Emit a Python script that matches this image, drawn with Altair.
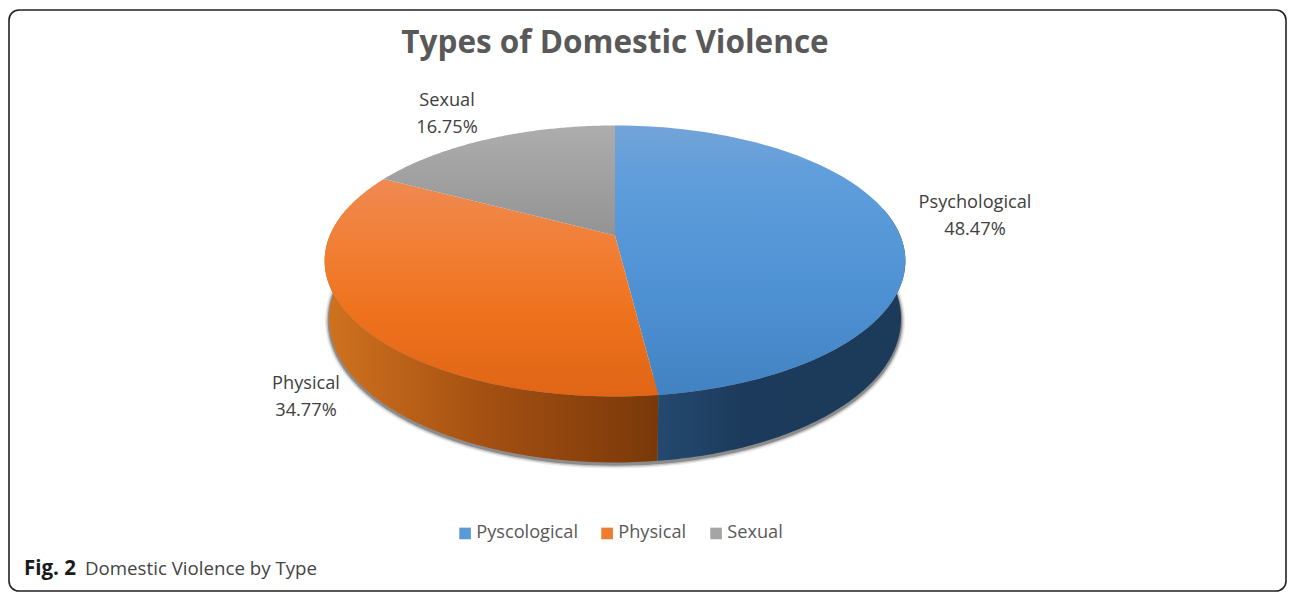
import math
import altair as alt

# --- data -------------------------------------------------------------
slice_names = ["Psychological", "Physical", "Sexual"]
legend_names = ["Pyscological", "Physical", "Sexual"]
shares = [48.47, 34.77, 16.75]
legend_colors = ["#5b9bd5", "#ed7d31", "#a5a5a5"]
title_text = "Types of Domestic Violence"
caption_bold = "Fig. 2"
caption_text = "Domestic Violence by Type"
label_centres = [(975, 208), (306, 389), (447, 106)]

# --- page geometry ----------------------------------------------------
OX, OY = 9, 10
W, H = 1277, 581
CX, AY = 615, 235.5     # apex of the wedges
A, B, C = 130.7, 0.188, 285.2  # perspective of the tilted disc
TILT = 1.6


def top_pt(t):
    r = math.radians(t)
    u, v = math.sin(r), -math.cos(r)
    d = 1 - B * v
    return (CX + C * u / d - OX, AY + A * v / d - OY)


def bottom_pt(t, extra=0):
    r = math.radians(t)
    v = -math.cos(r)
    x, y = top_pt(t)
    return (CX - OX + (x - (CX - OX)) * 0.985, y + 56 + 10 * max(v, 0) + extra)


def sweep(a, b, fn, n=120):
    return [list(fn(a + (b - a) * i / n)) for i in range(n + 1)]


def feature(ring):
    return {"type": "Feature", "properties": {},
            "geometry": {"type": "Polygon", "coordinates": [ring + [ring[0]]]}}


total = sum(shares)
edges = [0.0]
run = 0.0
for s in shares[:-1]:
    run += s
    edges.append(run / total * 360 - TILT)
edges.append(360.0)


def grad(stops, horizontal=False):
    return alt.LinearGradient(
        gradient="linear",
        x1=0, y1=0, x2=1 if horizontal else 0, y2=0 if horizontal else 1,
        stops=[alt.GradientStop(offset=o, color=c) for o, c in stops],
    )


def shape(ring, **mark):
    return (
        alt.Chart(alt.InlineData(values=[feature(ring)]))
        .mark_geoshape(**mark)
        .project(type="identity", scale=1, translate=[0, 0])
    )


layers = []

# soft shadow under the disc
shadow_ring = sweep(78, 282, lambda t: bottom_pt(t, 2)) + [list(top_pt(180))]
for sw, op in [(8, 0.10), (5, 0.22), (2.5, 0.40)]:
    layers.append(shape(shadow_ring, fill="#3c3c3c", stroke="#3c3c3c",
                        strokeWidth=sw, opacity=op, strokeJoin="round"))

# side walls
wall_blue = sweep(78, edges[1], top_pt) + sweep(edges[1], 78, bottom_pt)
wall_orange = sweep(edges[1], 282, top_pt) + sweep(282, edges[1], bottom_pt)
layers.append(shape(wall_orange, strokeWidth=0,
                    fill=grad([(0, "#d0721f"), (0.5, "#a34f11"), (1, "#793809")], True)))
layers.append(shape(wall_blue, strokeWidth=0,
                    fill=grad([(0, "#24496f"), (0.35, "#1c3b5c"), (1, "#1c3b5a")], True)))

# top face
top_fills = [
    grad([(0, "#73a4d9"), (0.2, "#5f9ddb"), (0.6, "#4f92d4"), (1, "#4282c2")]),
    grad([(0, "#ee8a52"), (0.3, "#f17f36"), (0.6, "#ef731e"), (1, "#e06515")]),
    grad([(0, "#adadad"), (1, "#939393")]),
]
apex = [CX - OX, AY - OY]
for i in range(3):
    ring = [apex] + sweep(edges[i], edges[i + 1], top_pt)
    layers.append(shape(ring, fill=top_fills[i], strokeWidth=0))

# real legend carried by an invisible layer
legend_rows = [{"name": n} for n in legend_names]
layers.append(
    alt.Chart(alt.InlineData(values=legend_rows)).mark_square(opacity=0, size=10).encode(
        x=alt.value(-50), y=alt.value(-50),
        color=alt.Color(
            "name:N",
            scale=alt.Scale(domain=legend_names, range=legend_colors),
            legend=alt.Legend(
                title=None, orient="none", legendX=447, legendY=514,
                direction="horizontal", columns=3, symbolType="square",
                symbolSize=135, symbolOpacity=1, symbolStrokeWidth=0,
                labelFont="Open Sans", labelFontSize=18.2, labelColor="#595959",
                columnPadding=20, labelOffset=2, labelLimit=200,
            ),
        ),
    )
)


def text(rows, **mark):
    return alt.Chart(alt.InlineData(values=rows)).mark_text(**mark).encode(
        x=alt.X("x:Q", scale=None), y=alt.Y("y:Q", scale=None), text="t:N"
    )


label_rows = []
for name, share, (lx, ly) in zip(slice_names, shares, label_centres):
    label_rows.append({"t": name, "x": lx - OX, "y": ly - OY})
    label_rows.append({"t": f"{share}%", "x": lx - OX, "y": ly + 26.5 - OY})
layers.append(text(label_rows, font="Open Sans", fontSize=18.2, color="#404040",
                   align="center", baseline="alphabetic"))
layers.append(text([{"t": title_text, "x": 615 - OX, "y": 53 - OY}], font="Open Sans",
                   fontSize=31.5, fontWeight="bold", color="#595959", align="center",
                   baseline="alphabetic"))
layers.append(text([{"t": caption_bold, "x": 24 - OX, "y": 575 - OY}], font="Open Sans",
                   fontSize=20.5, fontWeight="bold", color="#1a1a1a", align="left",
                   baseline="alphabetic"))
layers.append(text([{"t": caption_text, "x": 85 - OX, "y": 575 - OY}], font="Open Sans",
                   fontSize=18.7, color="#444444", align="left", baseline="alphabetic"))

chart = (
    alt.layer(*layers)
    .properties(width=W, height=H, padding={"left": 1, "top": 2, "right": 1, "bottom": 1},
                autosize=alt.AutoSizeParams(type="none"))
    .configure_view(stroke="#222222", strokeWidth=1.6, cornerRadius=10)
)

chart.save("out.html", embed_options={"renderer": "svg", "actions": False})
